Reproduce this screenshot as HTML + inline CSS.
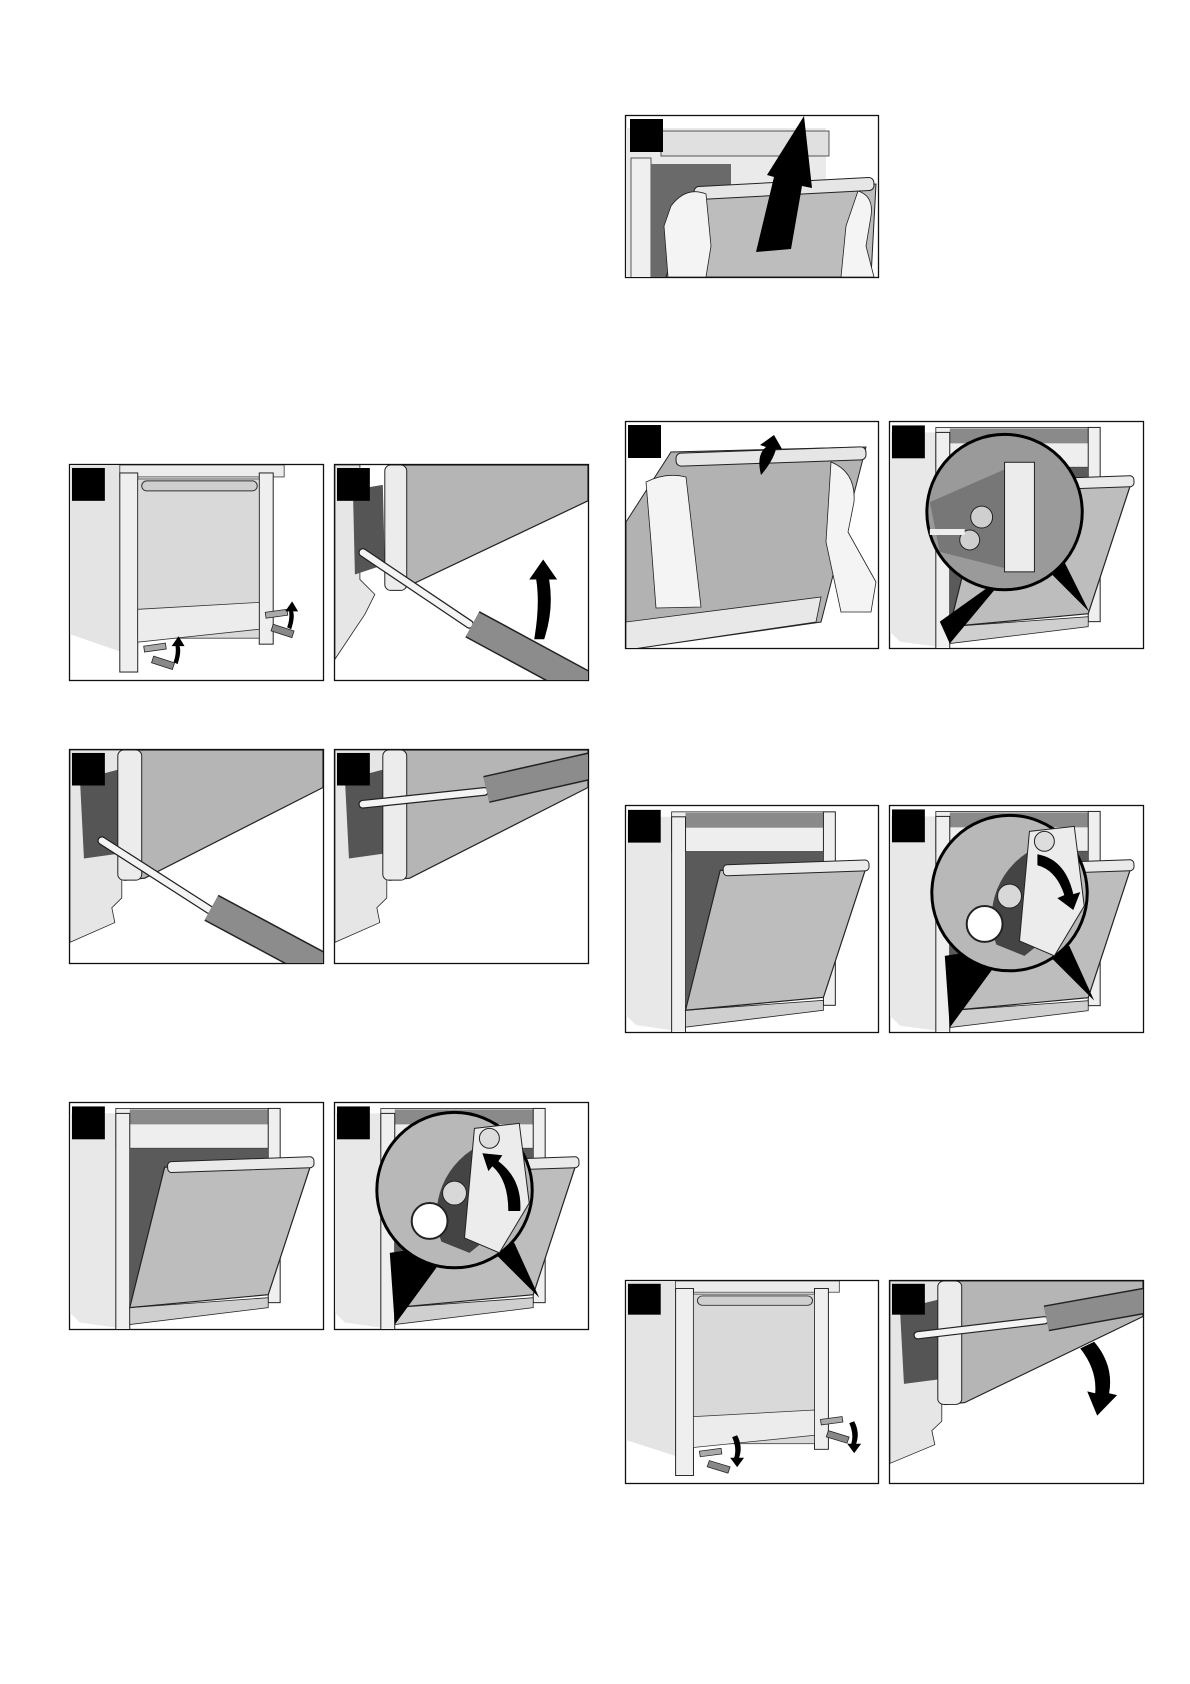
<!DOCTYPE html>
<html><head><meta charset="utf-8"><style>
html,body{margin:0;padding:0;background:#fff;width:1190px;height:1684px;overflow:hidden}
svg{display:block}
</style></head><body>
<svg width="1190" height="1684" viewBox="0 0 1190 1684" xmlns="http://www.w3.org/2000/svg" font-family="Liberation Sans, sans-serif">
<defs>
  <g id="front">
    <polygon points="0,0 58,0 58,190 0,170" fill="#e4e4e4"/>
    <rect x="50" y="0" width="165" height="12" fill="#ececec" stroke="#333" stroke-width="0.8"/>
    <rect x="50" y="8" width="18" height="200" fill="#efefef" stroke="#222" stroke-width="1"/>
    <rect x="190" y="8" width="14" height="172" fill="#efefef" stroke="#222" stroke-width="1"/>
    <rect x="68" y="14" width="122" height="160" fill="#d9d9d9" stroke="#333" stroke-width="0.8"/>
    <polygon points="68,145 190,138 190,165 68,178" fill="#ececec" stroke="#333" stroke-width="0.8"/>
    <rect x="72" y="16" width="116" height="10" rx="5" fill="#cfcfcf" stroke="#333" stroke-width="1"/>
    <g stroke="#222" stroke-width="0.8">
      <rect x="74" y="182" width="22" height="6" fill="#aaa" transform="rotate(-8 74 182)"/>
      <rect x="84" y="192" width="22" height="7" fill="#888" transform="rotate(18 84 192)"/>
      <rect x="196" y="148" width="22" height="6" fill="#aaa" transform="rotate(-8 196 148)"/>
      <rect x="204" y="160" width="22" height="7" fill="#888" transform="rotate(18 204 160)"/>
    </g>
  </g>
  <g id="bigscrewA">
    <polygon points="0,0 52,0 52,150 42,160 45,175 0,195" fill="#e6e6e6" stroke="#222" stroke-width="0.8"/>
    <polygon points="10,30 48,20 50,105 14,110" fill="#555"/>
    <polygon points="55,0 254,0 254,38 75,130 55,132" fill="#b5b5b5" stroke="#222" stroke-width="1.2"/>
    <rect x="48" y="0" width="24" height="132" rx="6" fill="#ececec" stroke="#222" stroke-width="1"/>
  </g>
</defs>

<g fill="none" stroke="#111" stroke-width="1.3">
  <rect x="625.5" y="115.5" width="253" height="162"/>
  <rect x="69.5" y="464.5" width="254" height="216"/>
  <rect x="334.5" y="464.5" width="254" height="216"/>
  <rect x="625.5" y="421.5" width="253" height="227"/>
  <rect x="889.5" y="421.5" width="254" height="227"/>
  <rect x="69.5" y="749.5" width="254" height="214"/>
  <rect x="334.5" y="749.5" width="254" height="214"/>
  <rect x="625.5" y="805.5" width="253" height="227"/>
  <rect x="889.5" y="805.5" width="254" height="227"/>
  <rect x="69.5" y="1102.5" width="254" height="227"/>
  <rect x="334.5" y="1102.5" width="254" height="227"/>
  <rect x="625.5" y="1280.5" width="253" height="203"/>
  <rect x="889.5" y="1280.5" width="254" height="203"/>
</g>

<svg x="626" y="116" width="252" height="161" viewBox="0 0 252 161">
  <rect x="0" y="12" width="200" height="150" fill="#eaeaea"/>
  <rect x="35" y="15" width="168" height="25" fill="#e0e0e0" stroke="#333" stroke-width="0.8"/>
  <rect x="5" y="42" width="20" height="120" fill="#efefef" stroke="#333" stroke-width="0.8"/>
  <rect x="25" y="48" width="80" height="113" fill="#6a6a6a"/>
  <polygon points="70,78 250,68 245,161 40,161" fill="#bdbdbd" stroke="#222" stroke-width="1"/>
  <rect x="68" y="66" width="180" height="13" rx="5" fill="#e6e6e6" stroke="#222" stroke-width="1" transform="rotate(-3 158 72)"/>
  <path d="M45,90 Q60,70 80,78 L85,130 L80,161 L42,161 L38,110 Z" fill="#f4f4f4" stroke="#222" stroke-width="0.8"/>
  <path d="M232,75 Q248,80 245,100 L240,130 L248,161 L215,161 L220,110 Z" fill="#f4f4f4" stroke="#222" stroke-width="0.8"/>
  <polygon points="130,136 148,61 141,59 178,0 186,72 176,70 165,133" fill="#000"/>
  <rect x="4" y="3" width="33" height="33" fill="#000"/>
</svg>

<svg x="70" y="465" width="253" height="215" viewBox="0 0 254 216" preserveAspectRatio="none">
  <use href="#front"/>
  <path d="M108,200 q4,-12 2,-18 l5,0 l-6,-10 l-7,10 l4,0 q1,8 -2,16z" fill="#000"/>
  <path d="M222,165 q4,-12 2,-18 l5,0 l-6,-10 l-7,10 l4,0 q1,8 -2,16z" fill="#000"/>
  <rect x="2" y="3" width="33" height="33" fill="#000"/>
</svg>

<svg x="335" y="465" width="253" height="215" viewBox="0 0 254 216" preserveAspectRatio="none">
  <polygon points="0,0 25,0 25,115 40,130 30,150 0,195" fill="#e6e6e6" stroke="#222" stroke-width="0.8"/>
  <polygon points="18,25 48,20 50,100 20,110" fill="#555"/>
  <polygon points="55,0 254,0 254,36 73,122 58,122" fill="#b5b5b5" stroke="#222" stroke-width="1.2"/>
  <rect x="50" y="0" width="22" height="126" rx="6" fill="#ececec" stroke="#222" stroke-width="1"/>
  <line x1="28" y1="88" x2="135" y2="160" stroke="#222" stroke-width="9" stroke-linecap="round"/>
  <line x1="28" y1="88" x2="135" y2="160" stroke="#f4f4f4" stroke-width="6.5" stroke-linecap="round"/>
  <line x1="138" y1="160" x2="258" y2="225" stroke="#222" stroke-width="30"/>
  <line x1="138" y1="160" x2="258" y2="225" stroke="#8c8c8c" stroke-width="27"/>
  <path d="M210,175 q10,-30 5,-60 l8,0 l-14,-20 l-14,20 l7,0 q4,25 -2,60z" fill="#000"/>
  <rect x="2" y="3" width="33" height="33" fill="#000"/>
</svg>

<svg x="70" y="750" width="253" height="213" viewBox="0 0 254 216" preserveAspectRatio="none">
  <use href="#bigscrewA"/>
  <line x1="32" y1="92" x2="140" y2="162" stroke="#222" stroke-width="9" stroke-linecap="round"/>
  <line x1="32" y1="92" x2="140" y2="162" stroke="#f4f4f4" stroke-width="6.5" stroke-linecap="round"/>
  <line x1="142" y1="160" x2="262" y2="225" stroke="#222" stroke-width="30"/>
  <line x1="142" y1="160" x2="262" y2="225" stroke="#8c8c8c" stroke-width="27"/>
  <rect x="2" y="3" width="33" height="33" fill="#000"/>
</svg>

<svg x="335" y="750" width="253" height="213" viewBox="0 0 254 216" preserveAspectRatio="none">
  <use href="#bigscrewA"/>
  <line x1="28" y1="55" x2="150" y2="42" stroke="#222" stroke-width="9" stroke-linecap="round"/>
  <line x1="28" y1="55" x2="150" y2="42" stroke="#f4f4f4" stroke-width="6.5" stroke-linecap="round"/>
  <line x1="152" y1="40" x2="262" y2="15" stroke="#222" stroke-width="28"/>
  <line x1="152" y1="40" x2="262" y2="15" stroke="#8c8c8c" stroke-width="25"/>
  <rect x="2" y="3" width="33" height="33" fill="#000"/>
</svg>

<svg x="626" y="422" width="252" height="226" viewBox="0 0 252 226">
  <polygon points="45,30 240,25 195,200 0,228 0,100" fill="#b2b2b2" stroke="#222" stroke-width="1"/>
  <polygon points="0,200 195,175 190,200 0,228" fill="#e8e8e8" stroke="#222" stroke-width="0.8"/>
  <rect x="50" y="28" width="190" height="13" rx="5" fill="#e6e6e6" stroke="#222" stroke-width="1" transform="rotate(-2 145 34)"/>
  <path d="M20,60 Q40,50 60,55 L75,185 L30,186 L25,120 Z" fill="#f4f4f4" stroke="#222" stroke-width="0.8"/>
  <path d="M205,40 Q230,50 228,80 L222,110 L250,160 L245,190 L215,190 L200,120 Z" fill="#f4f4f4" stroke="#222" stroke-width="0.8"/>
  <path d="M135,53 q-5,-20 5,-28 l-6,-2 l14,-10 l8,14 l-6,0 q-3,12 -15,26z" fill="#000"/>
  <rect x="2" y="3" width="33" height="33" fill="#000"/>
</svg>

<defs>
  <g id="opendoor">
    <polygon points="0,10 46,10 46,225 10,220 0,210" fill="#e8e8e8"/>
    <rect x="46" y="5" width="155" height="40" fill="#eeeeee" stroke="#222" stroke-width="0.8"/>
    <rect x="60" y="6" width="139" height="15" fill="#8a8a8a"/>
    <rect x="46" y="10" width="14" height="218" fill="#efefef" stroke="#222" stroke-width="1"/>
    <rect x="199" y="5" width="12" height="195" fill="#efefef" stroke="#222" stroke-width="1"/>
    <polygon points="60,45 199,45 199,190 60,200" fill="#5a5a5a"/>
    <polygon points="60,205 199,195 199,205 60,222" fill="#cfcfcf" stroke="#222" stroke-width="0.8"/>
    <polygon points="95,64 243,58 199,192 60,205" fill="#bdbdbd" stroke="#222" stroke-width="1.2"/>
    <rect x="98" y="56" width="147" height="11" rx="4" fill="#eaeaea" stroke="#222" stroke-width="1" transform="rotate(-2 170 62)"/>
  </g>
  <g id="zoomc">
    <polygon points="55,150 60,222 120,140" fill="#000"/>
    <polygon points="180,140 205,195 150,140" fill="#000"/>
    <circle cx="120" cy="87" r="78" fill="#b8b8b8" stroke="#000" stroke-width="3"/>
    <polygon points="70,60 150,25 185,110 135,150 60,120" fill="#444" clip-path="circle(78px at 120px 87px)"/>
    <polygon points="140,25 185,20 195,100 165,150 130,135" fill="#ececec" stroke="#222"/>
    <circle cx="95" cy="118" r="18" fill="#fff" stroke="#222" stroke-width="2"/>
    <circle cx="120" cy="90" r="12" fill="#d8d8d8" stroke="#222"/>
    <circle cx="155" cy="35" r="10" fill="#ddd" stroke="#222"/>
  </g>
</defs>

<svg x="70" y="1103" width="253" height="226" viewBox="0 0 254 226"><use href="#opendoor"/><rect x="2" y="3" width="33" height="33" fill="#000"/></svg>
<svg x="335" y="1103" width="253" height="226" viewBox="0 0 254 226"><use href="#opendoor"/><use href="#zoomc"/>
  <path d="M186,108 q2,-32 -22,-50 l4,-6 l-20,-2 l6,18 l4,-5 q16,14 16,45z" fill="#000"/>
  <rect x="2" y="3" width="33" height="33" fill="#000"/></svg>
<svg x="626" y="806" width="252" height="226" viewBox="0 0 254 226"><use href="#opendoor"/><rect x="2" y="3" width="33" height="33" fill="#000"/></svg>
<svg x="890" y="806" width="253" height="226" viewBox="0 0 254 226"><use href="#opendoor"/><use href="#zoomc"/>
  <path d="M148,48 q28,5 36,40 l7,-2 l-7,18 l-16,-12 l7,-3 q-8,-25 -27,-30z" fill="#000"/>
  <rect x="2" y="3" width="33" height="33" fill="#000"/></svg>

<svg x="890" y="422" width="253" height="226" viewBox="0 0 254 226">
  <use href="#opendoor"/>
  <polygon points="50,200 60,222 120,150" fill="#000"/>
  <polygon points="175,140 200,190 150,140" fill="#000"/>
  <circle cx="115" cy="90" r="78" fill="#9a9a9a" stroke="#000" stroke-width="3"/>
  <polygon points="40,80 120,45 130,150 50,130" fill="#777"/>
  <rect x="115" y="40" width="30" height="110" fill="#ececec" stroke="#222"/>
  <circle cx="92" cy="95" r="11" fill="#cfcfcf" stroke="#222"/>
  <circle cx="80" cy="118" r="10" fill="#cfcfcf" stroke="#222"/>
  <line x1="40" y1="110" x2="75" y2="110" stroke="#eee" stroke-width="6"/>
  <rect x="2" y="3" width="33" height="33" fill="#000"/>
</svg>

<svg x="626" y="1281" width="252" height="202" viewBox="0 0 254 216" preserveAspectRatio="none">
  <use href="#front"/>
  <path d="M112,165 q6,12 2,24 l5,0 l-7,10 l-7,-10 l4,0 q3,-10 -2,-22z" fill="#000"/>
  <path d="M230,150 q6,12 2,24 l5,0 l-7,10 l-7,-10 l4,0 q3,-10 -2,-22z" fill="#000"/>
  <rect x="2" y="3" width="33" height="33" fill="#000"/>
</svg>

<svg x="890" y="1281" width="253" height="202" viewBox="0 0 254 216" preserveAspectRatio="none">
  <use href="#bigscrewA"/>
  <line x1="28" y1="58" x2="155" y2="42" stroke="#222" stroke-width="9" stroke-linecap="round"/>
  <line x1="28" y1="58" x2="155" y2="42" stroke="#f4f4f4" stroke-width="6.5" stroke-linecap="round"/>
  <line x1="157" y1="40" x2="262" y2="20" stroke="#222" stroke-width="28"/>
  <line x1="157" y1="40" x2="262" y2="20" stroke="#8c8c8c" stroke-width="25"/>
  <path d="M205,65 q20,25 15,55 l8,2 l-20,22 l-10,-26 l8,2 q2,-25 -15,-48z" fill="#000"/>
  <rect x="2" y="3" width="33" height="33" fill="#000"/>
</svg>
</svg>
</body></html>
